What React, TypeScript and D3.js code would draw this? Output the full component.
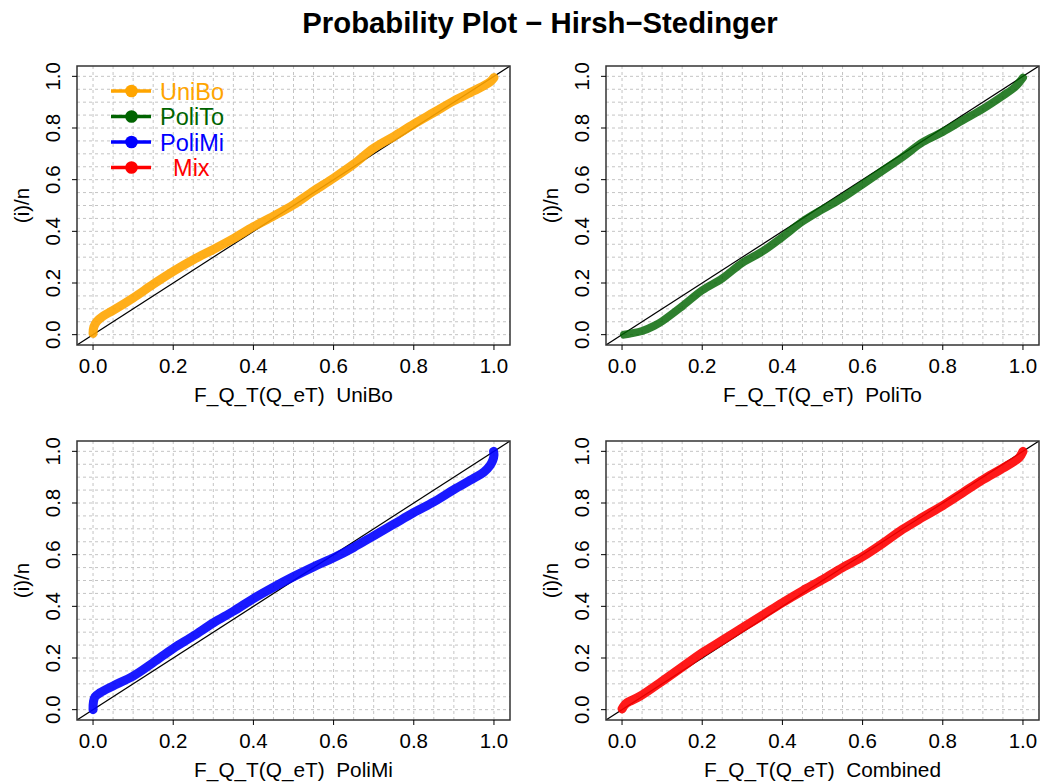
import React from "react";
import * as d3 from "d3";

const TITLE = "Probability Plot \u2212 Hirsh\u2212Stedinger";
const TICKS = [0, 0.2, 0.4, 0.6, 0.8, 1.0];
const GRID = d3.range(0, 21).map((i) => i * 0.05);

const UNIBO_X = [0, 0.002, 0.01, 0.025, 0.05, 0.1, 0.15, 0.2, 0.25, 0.3, 0.35, 0.4, 0.45, 0.5, 0.55, 0.6, 0.65, 0.7, 0.75, 0.8, 0.85, 0.9, 0.95, 0.99, 1.0];
const UNIBO_Y = [0.005, 0.03, 0.052, 0.072, 0.094, 0.142, 0.195, 0.245, 0.29, 0.33, 0.372, 0.418, 0.459, 0.503, 0.556, 0.606, 0.66, 0.722, 0.767, 0.815, 0.86, 0.905, 0.944, 0.978, 0.995];

const POLITO_X = [0.005, 0.02, 0.05, 0.08, 0.1, 0.15, 0.2, 0.25, 0.3, 0.35, 0.4, 0.45, 0.5, 0.55, 0.6, 0.65, 0.7, 0.75, 0.8, 0.85, 0.9, 0.95, 0.98, 1.0];
const POLITO_Y = [0.0, 0.004, 0.014, 0.034, 0.052, 0.11, 0.172, 0.218, 0.278, 0.322, 0.378, 0.438, 0.485, 0.53, 0.582, 0.635, 0.688, 0.745, 0.785, 0.83, 0.874, 0.925, 0.958, 0.995];

const POLIMI_X = [0, 0.001, 0.005, 0.017, 0.05, 0.1, 0.15, 0.2, 0.25, 0.3, 0.35, 0.4, 0.45, 0.5, 0.55, 0.6, 0.65, 0.7, 0.75, 0.8, 0.85, 0.9, 0.95, 0.975, 0.99, 0.997, 1.0, 0.999];
const POLIMI_Y = [0.0, 0.03, 0.05, 0.065, 0.092, 0.13, 0.182, 0.237, 0.285, 0.336, 0.381, 0.43, 0.474, 0.515, 0.553, 0.588, 0.628, 0.673, 0.718, 0.763, 0.804, 0.852, 0.896, 0.92, 0.945, 0.965, 0.985, 1.0];

const MIX_X = [0, 0.005, 0.012, 0.045, 0.1, 0.15, 0.2, 0.25, 0.3, 0.35, 0.4, 0.45, 0.5, 0.55, 0.6, 0.65, 0.7, 0.75, 0.8, 0.85, 0.9, 0.95, 0.99, 1.0];
const MIX_Y = [0.003, 0.015, 0.026, 0.052, 0.11, 0.165, 0.22, 0.268, 0.317, 0.365, 0.414, 0.46, 0.503, 0.55, 0.592, 0.643, 0.698, 0.745, 0.79, 0.84, 0.89, 0.935, 0.975, 1.0];

const LEGEND_LABELS = ["UniBo", "PoliTo", "PoliMi", "  Mix"];
const COLORS = ["#FFA500", "#006400", "#0000FF", "#FF0000"];
const PANEL_NAMES = ["UniBo", "PoliTo", "PoliMi", "Combined"];

const SERIES = [
  { xs: UNIBO_X, ys: UNIBO_Y },
  { xs: POLITO_X, ys: POLITO_Y },
  { xs: POLIMI_X, ys: POLIMI_Y },
  { xs: MIX_X, ys: MIX_Y },
];

const FONT = "'Liberation Sans', Arial, Helvetica, sans-serif";

type Box = { left: number; right: number; top: number; bottom: number };
const BOXES: Box[] = [
  { left: 77, right: 510, top: 66, bottom: 345 },
  { left: 606, right: 1039, top: 66, bottom: 345 },
  { left: 77, right: 510, top: 441, bottom: 720 },
  { left: 606, right: 1039, top: 441, bottom: 720 },
];

function Panel({ idx }: { idx: number }) {
  const b = BOXES[idx];
  const x = d3.scaleLinear().domain([-0.04, 1.04]).range([b.left, b.right]);
  const y = d3.scaleLinear().domain([-0.04, 1.04]).range([b.bottom, b.top]);
  const s = SERIES[idx];
  const pts: [number, number][] = s.xs.map((v, i) => [v, s.ys[i]]);
  const line = d3
    .line<[number, number]>()
    .x((d) => x(d[0]))
    .y((d) => y(d[1]))
    .curve(d3.curveCatmullRom.alpha(0.5));
  const clipId = `clip${idx}`;
  const cx = (b.left + b.right) / 2;
  const cy = (b.top + b.bottom) / 2;
  return (
    <g>
      <defs>
        <clipPath id={clipId}>
          <rect x={b.left} y={b.top} width={b.right - b.left} height={b.bottom - b.top} />
        </clipPath>
      </defs>
      <g clipPath={`url(#${clipId})`}>
        {GRID.map((g) => (
          <line key={"v" + g} x1={x(g)} x2={x(g)} y1={b.top} y2={b.bottom} stroke="#c4c4c4" strokeWidth={1} strokeDasharray="3,3" />
        ))}
        {GRID.map((g) => (
          <line key={"h" + g} x1={b.left} x2={b.right} y1={y(g)} y2={y(g)} stroke="#c4c4c4" strokeWidth={1} strokeDasharray="3,3" />
        ))}
        <line x1={x(-0.04)} y1={y(-0.04)} x2={x(1.04)} y2={y(1.04)} stroke="#000" strokeWidth={1.2} />
        <path d={line(pts) || ""} fill="none" stroke={COLORS[idx]} strokeWidth={idx === 1 ? 8 : 9} strokeLinecap="round" strokeLinejoin="round" opacity={idx === 1 ? 0.82 : 0.9} />
      </g>
      <rect x={b.left} y={b.top} width={b.right - b.left} height={b.bottom - b.top} fill="none" stroke="#333" strokeWidth={1.5} />
      {TICKS.map((t) => (
        <g key={"xt" + t}>
          <line x1={x(t)} x2={x(t)} y1={b.bottom} y2={b.bottom + 5} stroke="#000" />
          <text x={x(t)} y={b.bottom + 28} textAnchor="middle" fontSize={20.5} fontFamily={FONT} fill="#000">
            {t.toFixed(1)}
          </text>
        </g>
      ))}
      {TICKS.map((t) => (
        <g key={"yt" + t}>
          <line x1={b.left - 5} x2={b.left} y1={y(t)} y2={y(t)} stroke="#000" />
          <text transform={`translate(${b.left - 17},${y(t)}) rotate(-90)`} textAnchor="middle" fontSize={20.5} fontFamily={FONT} fill="#000">
            {t.toFixed(1)}
          </text>
        </g>
      ))}
      <text x={cx} y={b.bottom + 57} textAnchor="middle" fontSize={20.8} fontFamily={FONT} fill="#000" style={{ whiteSpace: "pre" }}>
        {"F_Q_T(Q_eT)  " + PANEL_NAMES[idx]}
      </text>
      <text transform={`translate(${b.left - 48},${cy}) rotate(-90)`} textAnchor="middle" fontSize={20.5} fontFamily={FONT} fill="#000">
        (i)/n
      </text>
    </g>
  );
}

function Legend() {
  const y0 = 91;
  const step = 25.5;
  return (
    <g>
      {LEGEND_LABELS.map((lab, i) => (
        <g key={lab}>
          <line x1={111} x2={151} y1={y0 + i * step} y2={y0 + i * step} stroke={COLORS[i]} strokeWidth={3.5} />
          <circle cx={131.5} cy={y0 + i * step} r={6.3} fill={COLORS[i]} />
          <text x={160} y={y0 + i * step + 8.5} fontSize={23.5} fontFamily={FONT} fill={COLORS[i]} style={{ whiteSpace: "pre" }}>
            {lab}
          </text>
        </g>
      ))}
    </g>
  );
}

export default function App() {
  return (
    <svg width={1042} height={784} style={{ position: "absolute", left: 0, top: 0, background: "#fff" }}>
      <rect x={0} y={0} width={1042} height={784} fill="#fff" />
      <text x={540} y={33} textAnchor="middle" fontSize={29.3} fontWeight="bold" fontFamily={FONT} fill="#000">
        {TITLE}
      </text>
      {[0, 1, 2, 3].map((i) => (
        <Panel key={i} idx={i} />
      ))}
      <Legend />
    </svg>
  );
}
